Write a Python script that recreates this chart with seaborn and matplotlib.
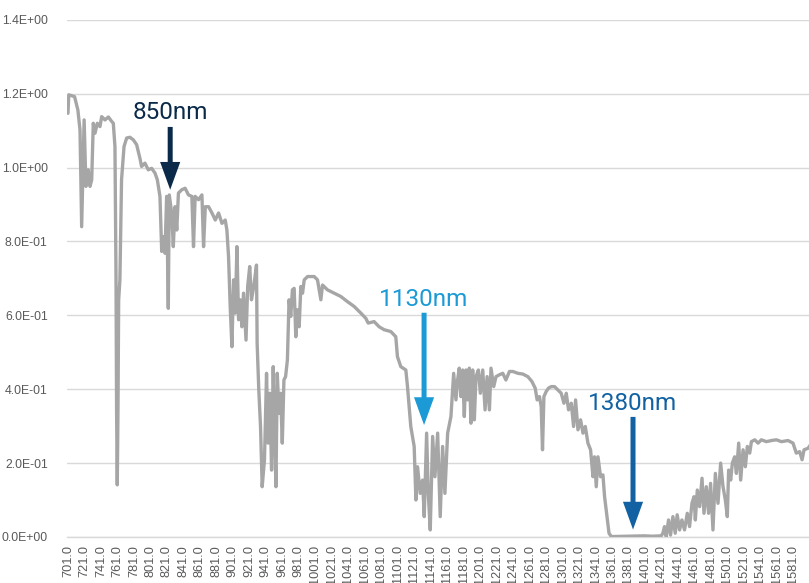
import matplotlib
matplotlib.use("Agg")
import matplotlib.pyplot as plt
import seaborn as sns
import pandas as pd
from matplotlib.ticker import FuncFormatter

# ---- data ----
wavelength = [
    701, 702, 709, 713, 715.6, 717.6, 720.6, 722.8, 725.6, 727.7, 729.8, 731.7, 733.8, 736.6,
    739.8, 741.9, 745.9, 750, 754, 756, 758, 759.3, 760, 760.8, 761.7, 762.5, 764, 766, 769,
    772.2, 776.2, 780.3, 784.3, 788.3, 790.3, 794.4, 798.4, 802.5, 806.6, 809.4, 812.6, 814.7,
    816.7, 818.7, 820.7, 822.7, 823.9, 826.8, 828.8, 830.9, 833, 835, 839.1, 843.1, 847.2,
    851.3, 853.3, 855.3, 859.4, 863.5, 865.5, 867.6, 871.6, 875.7, 879.7, 883.7, 887.8, 891.8,
    893.8, 895.8, 897.8, 899.9, 901.9, 904, 906, 908, 910, 912, 914, 917, 919, 921.5, 923.6,
    926.4, 929.7, 930.5, 932.5, 934.6, 936.6, 939.4, 941.9, 943.9, 945.9, 948, 950, 952, 953.3,
    954.9, 957, 959, 961, 963, 965, 967.2, 969.2, 971.3, 973.3, 975.4, 977.4, 979.4, 981.5,
    983.5, 985.6, 987.6, 991.7, 995.6, 999.7, 1003.7, 1007.8, 1009.8, 1015.8, 1023.9, 1032,
    1040.1, 1048.2, 1056.3, 1062.3, 1065.2, 1072.4, 1078.5, 1084.6, 1092.7, 1098.7, 1100.7,
    1104.8, 1110.9, 1112.9, 1116.9, 1121, 1123.1, 1125.1, 1128.3, 1131.2, 1133.2, 1136.1,
    1138.1, 1140.5, 1143.4, 1146.2, 1149.5, 1152.6, 1155.5, 1158.3, 1161.6, 1165.6, 1168.9,
    1171.7, 1173.7, 1175.7, 1177.7, 1179.8, 1181.8, 1183.8, 1185.9, 1187.9, 1189.9, 1192,
    1194, 1196, 1198.9, 1201.3, 1204.2, 1207, 1209.5, 1212.3, 1214.2, 1217.5, 1220.3, 1224.4,
    1228.5, 1232.3, 1236.6, 1240.7, 1246.8, 1252.8, 1258.9, 1263.8, 1267.8, 1270.2, 1273,
    1275.1, 1276.7, 1278.4, 1281.2, 1284, 1287.3, 1291.3, 1295.4, 1299.4, 1302.7, 1305.5,
    1308.3, 1311.6, 1314.4, 1316.8, 1319.7, 1322.9, 1325.8, 1328.6, 1331.8, 1335, 1337.9,
    1339.8, 1341.9, 1344, 1347.1, 1350, 1352, 1354.9, 1357.4, 1360.2, 1380, 1400, 1410,
    1420.7, 1422.7, 1424.7, 1426.8, 1429.6, 1432, 1434.9, 1437.7, 1440.1, 1443, 1445.8, 1449,
    1452.3, 1455.1, 1458, 1460.5, 1462.1, 1464.5, 1467.3, 1470.2, 1472.6, 1475.4, 1478.2,
    1480.6, 1483.5, 1486.4, 1489.6, 1492.8, 1495.7, 1498.5, 1500.9, 1502.5, 1505, 1507,
    1509.8, 1511.9, 1514.7, 1517.1, 1520, 1522.8, 1525.2, 1528.1, 1530.1, 1534.2, 1538.2,
    1542.2, 1548.3, 1554.4, 1560.4, 1566.5, 1574.6, 1580.6, 1584.6, 1588.7, 1591.6, 1594,
    1598.8, 1601.6,
]
irradiance = [
    1.147, 1.197, 1.192, 1.156, 1.102, 0.840, 1.129, 0.949, 0.994, 0.949, 0.967, 1.120, 1.093, 1.120,
    1.111, 1.138, 1.129, 1.137, 1.125, 1.120, 1.057, 0.696, 0.336, 0.141, 0.353, 0.642, 0.696, 0.967, 1.057,
    1.080, 1.082, 1.075, 1.062, 1.025, 1.003, 1.012, 0.994, 0.998, 0.985, 0.967, 0.922, 0.773,
    0.813, 0.768, 0.922, 0.619, 0.926, 0.877, 0.786, 0.894, 0.831, 0.931, 0.940, 0.944, 0.926,
    0.922, 0.786, 0.922, 0.913, 0.926, 0.786, 0.894, 0.894, 0.877, 0.858, 0.877, 0.849, 0.858,
    0.831, 0.759, 0.624, 0.515, 0.696, 0.606, 0.786, 0.588, 0.642, 0.569, 0.660, 0.533, 0.678, 0.732, 0.642,
    0.678, 0.736, 0.524, 0.398, 0.299, 0.136, 0.209, 0.443, 0.254, 0.389, 0.181, 0.461, 0.254, 0.136,
    0.443, 0.335, 0.389, 0.254, 0.425, 0.434, 0.479, 0.642, 0.597, 0.669, 0.673, 0.542, 0.615, 0.569,
    0.678, 0.660, 0.696, 0.705, 0.705, 0.705, 0.696, 0.642, 0.682, 0.669, 0.660, 0.651,
    0.637, 0.624, 0.606, 0.592, 0.579, 0.583, 0.569, 0.561, 0.556, 0.542, 0.488,
    0.461, 0.452, 0.407, 0.299, 0.245, 0.100, 0.190, 0.118, 0.154, 0.055, 0.281,
    0.118, 0.019, 0.272, 0.163, 0.281, 0.055, 0.245, 0.118, 0.281, 0.326, 0.443,
    0.371, 0.425, 0.457, 0.380, 0.452, 0.326, 0.452, 0.371, 0.457, 0.308, 0.452,
    0.317, 0.434, 0.452, 0.389, 0.452, 0.344, 0.434, 0.344, 0.457, 0.407, 0.434, 0.439,
    0.443, 0.425, 0.448, 0.448, 0.443, 0.441, 0.434, 0.421, 0.403, 0.371, 0.380,
    0.353, 0.236, 0.380, 0.394, 0.403, 0.407, 0.407, 0.398, 0.389, 0.362, 0.389,
    0.344, 0.362, 0.299, 0.371, 0.290, 0.317, 0.281, 0.299, 0.254, 0.236, 0.163,
    0.217, 0.136, 0.217, 0.163, 0.168, 0.109, 0.055, 0.010, 0.001, 0.002, 0.003, 0.002,
    0.003, 0.010, 0.028, 0.001, 0.046, 0.005, 0.055, 0.010, 0.060, 0.019, 0.046, 0.019,
    0.064, 0.028, 0.091, 0.109, 0.046, 0.127, 0.082, 0.159, 0.064, 0.136, 0.064,
    0.145, 0.019, 0.172, 0.091, 0.200, 0.136, 0.100, 0.055, 0.181, 0.154, 0.200,
    0.217, 0.172, 0.254, 0.154, 0.236, 0.190, 0.245, 0.227, 0.258, 0.263, 0.254,
    0.263, 0.258, 0.261, 0.263, 0.258, 0.261, 0.254, 0.227, 0.231, 0.209, 0.236,
    0.240, 0.249,
]
tick_values = list(range(701, 1582, 20))
tick_labels = [f"{v:.1f}" for v in tick_values]
y_ticks = [0.0, 0.2, 0.4, 0.6, 0.8, 1.0, 1.2, 1.4]

ann_labels = ["850nm", "1130nm", "1380nm"]
ann_x = [825, 1133, 1386.5]
ann_tail = [1.11, 0.607, 0.325]
ann_tip = [0.94, 0.303, 0.020]
ann_text_y = [1.148, 0.642, 0.362]
ann_colors = ["#0B2A4A", "#1B9AD6", "#1262A3"]

df = pd.DataFrame({"wavelength": wavelength, "irradiance": irradiance})

sns.set_style("white")
plt.rcParams["font.family"] = ["Liberation Sans", "DejaVu Sans"]

fig = plt.figure(figsize=(8.09, 5.83), dpi=100)
ax = fig.add_axes([0.083, 0.079, 0.917, 0.887])

sns.lineplot(data=df, x="wavelength", y="irradiance", ax=ax, color="#A6A6A6",
             linewidth=2.4, estimator=None, sort=False, zorder=3)

ax.set_xlim(700, 1600)
ax.set_ylim(0, 1.4)
ax.set_xticks(tick_values)
ax.set_xticklabels(tick_labels, rotation=90, fontsize=9.2, color="#595959", va="top")
ax.set_yticks(y_ticks)
ax.yaxis.set_major_formatter(FuncFormatter(lambda v, p: f"{v:.1E}"))
ax.tick_params(axis="y", labelsize=8.8, labelcolor="#595959", length=0, pad=14)
ax.tick_params(axis="x", length=0, pad=6)
ax.grid(axis="y", color="#D9D9D9", linewidth=1.0, zorder=0)
ax.grid(axis="x", visible=False)
for s in ["top", "right", "left"]:
    ax.spines[s].set_visible(False)
ax.spines["bottom"].set_color("#D9D9D9")
ax.spines["bottom"].set_linewidth(1.0)
ax.set_xlabel("")
ax.set_ylabel("")

for lab, x, t0, t1, ty, c in zip(ann_labels, ann_x, ann_tail, ann_tip, ann_text_y, ann_colors):
    ax.annotate("", xy=(x, t1), xytext=(x, t0),
                arrowprops=dict(arrowstyle="simple,head_length=2.0,head_width=1.45,tail_width=0.36",
                                mutation_scale=10, color=c, lw=0, shrinkA=0, shrinkB=0),
                zorder=5)
    ax.text(x, ty, lab, ha="center", va="center", fontsize=17.5, color=c,
            family=["Roboto", "DejaVu Sans"], zorder=5)

fig.savefig("out.png", dpi=100)
